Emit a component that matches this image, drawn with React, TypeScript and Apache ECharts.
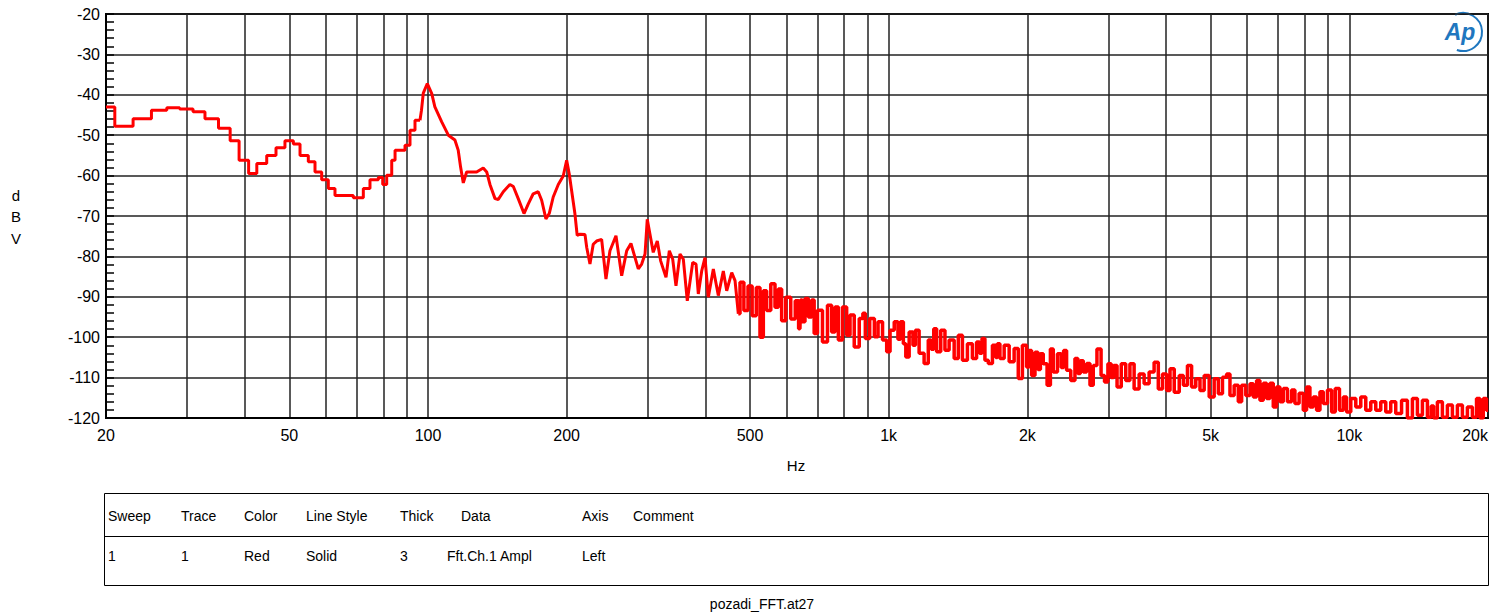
import React, { useEffect, useRef } from "react";
import * as echarts from "echarts";

// ---- data (frequency in Hz, level in dBV) ----
const lowFreqHz = [20.0, 20.9, 22.9, 25.1, 27.1, 28.9, 30.9, 32.8, 35.1, 37.2, 38.9, 40.8, 42.5, 44.66, 46.78, 48.92, 51.02, 52.75, 54.98, 56.85, 58.78, 60.76, 62.82, 68.84, 72.38, 74.83, 78.03, 79.75, 81.35, 83.42, 84.82, 89.15, 91.4, 93.71, 96.08];
const lowDbv = [-43.0, -47.8, -45.9, -43.8, -43.2, -43.5, -44.2, -45.9, -48.3, -51.4, -56.2, -59.5, -57.0, -55.0, -53.1, -51.4, -52.2, -55.0, -56.6, -59.1, -61.0, -63.2, -64.9, -65.5, -63.2, -61.0, -60.5, -62.2, -59.9, -56.2, -53.7, -52.5, -48.8, -46.3, -46.3];

const midFreqHz = [
  96.08, 96.8, 97.68, 99.66, 101.9, 103.5, 107.1, 110.7, 114.4, 116.3, 117.7, 119.3, 121.3, 127.5, 131.8, 134.1, 136.3, 139.8, 142.1, 145.7,
  150.6, 153.2, 157.0, 161.6, 165.1, 169.2, 173.5, 176.5, 180.3, 183.3, 187.0, 191.8, 196.6, 200.0, 202.6, 205.0, 208.4, 210.8, 213.8, 219.2,
  221.1, 224.7, 228.4, 232.3, 238.2, 243.4, 248.3, 255.9, 263.3, 270.0, 275.8, 286.1, 291.0, 295.9, 299.2, 303.3, 308.3, 314.6, 319.9, 328.6,
  334.1, 339.8, 345.4, 352.4, 358.3, 365.5, 375.5, 381.8, 386.2, 392.8, 399.3, 406.0, 416.3, 426.8, 437.6, 445.1, 456.4, 464.0, 471.7
];
const midDbv = [
  -46.3, -43.8, -39.6, -37.2, -39.7, -43.0, -46.7, -50.0, -51.2, -53.7, -57.9, -61.8, -59.1, -59.1, -58.1, -59.1, -62.2, -65.7, -65.9, -64.0,
  -62.2, -62.7, -65.7, -69.4, -67.0, -64.5, -64.0, -66.1, -70.7, -69.4, -65.3, -62.2, -60.1, -56.2, -59.6, -63.7, -69.4, -74.8, -74.5, -74.6,
  -77.8, -81.9, -77.0, -76.2, -75.8, -85.6, -78.6, -74.9, -84.8, -78.6, -76.8, -83.1, -81.9, -79.4, -70.8, -74.5, -79.0, -76.2, -81.1, -85.2,
  -78.6, -80.7, -87.3, -79.4, -80.7, -91.0, -81.5, -81.9, -89.3, -83.6, -80.3, -90.1, -83.1, -89.7, -83.6, -88.5, -84.0, -86.0, -94.2
];

const highFreqHz = [
  471.7, 479.8,
  490.2, 500.0, 510.9, 521.2, 530.1, 538.9, 547.9, 561.8, 571.4, 580.9, 590.6, 605.4, 620.7, 633.4, 641.8, 646.0, 652.6, 663.8, 674.9, 686.2,
  692.0, 709.4, 727.4, 745.8, 758.3, 771.3, 784.1, 803.9, 817.4, 831.5, 852.5, 874.1, 884.0, 895.9, 923.4, 938.9, 957.9, 982.1, 998.4, 1015.7,
  1041, 1054, 1067.6, 1085, 1094, 1122, 1136, 1150, 1179, 1209, 1229, 1245, 1261, 1281, 1314, 1336, 1370, 1405, 1428, 1464,
  1501, 1539, 1565, 1585, 1604, 1632, 1659, 1701, 1715, 1729, 1759, 1804, 1849, 1896, 1927, 1976, 2009, 2026, 2060, 2096,
  2122, 2148, 2184, 2231, 2258, 2296, 2354, 2383, 2413, 2454, 2516, 2559, 2590, 2624, 2668, 2713, 2758, 2804, 2861, 2922,
  2962, 3022, 3060, 3098, 3166, 3230, 3312, 3368, 3454, 3541, 3631, 3722, 3817, 3881, 3980, 4046, 4116, 4220, 4327, 4398,
  4508, 4584, 4700, 4781, 4902, 5026, 5153, 5239, 5371, 5460, 5554, 5694, 5789, 5886, 6035, 6138, 6239, 6343, 6450, 6560,
  6668, 6782, 6894, 7009, 7130, 7248, 7430, 7554, 7684, 7877, 8010, 8142, 8282, 8420, 8562, 8708, 8853, 9078, 9228, 9414,
  9624, 9784, 9947, 10200, 10458, 10722, 10993, 11271, 11556, 11848, 12147, 12454, 12769, 13202, 13537, 13879, 14231, 14591, 14961, 15150,
  15337, 15725, 16123, 16532, 16950, 17378, 17819, 18268, 18732, 19042, 19370, 19694, 20000
];
const highDbv = [
  -94.2, -86.4,
  -93.4, -87.3, -94.7, -87.7, -100.0, -88.5, -93.4, -86.8, -92.6, -88.1, -95.9, -90.1, -95.5, -91.0, -97.9, -90.8, -96.2, -90.4, -95.0, -90.8,
  -99.1, -93.3, -101.2, -92.1, -98.7, -92.5, -100.7, -92.5, -99.5, -94.5, -102.4, -95.4, -94.1, -100.3, -95.4, -99.9, -96.2, -100.7, -103.6, -98.3,
  -96.2, -100.5, -96.2, -101.6, -104.9, -98.7, -102.0, -98.3, -104.0, -106.5, -100.7, -103.0, -97.9, -103.6, -98.3, -103.2, -100.7, -105.3, -99.5, -105.7,
  -101.6, -105.3, -101.2, -104.0, -100.3, -105.7, -106.5, -102.0, -105.0, -101.6, -105.3, -102.0, -106.1, -102.8, -110.2, -102.0, -107.4, -103.3, -109.5, -103.7,
  -108.0, -104.1, -106.6, -111.9, -102.9, -108.6, -104.1, -107.5, -103.3, -108.2, -110.7, -105.3, -109.0, -105.8, -108.6, -106.5, -111.9, -107.0, -102.9, -109.5,
  -111.1, -106.6, -110.0, -107.0, -112.3, -106.6, -110.7, -106.6, -112.8, -109.1, -111.5, -108.6, -106.2, -112.8, -109.1, -113.2, -107.8, -113.6, -109.5, -111.9,
  -107.0, -112.3, -110.3, -113.2, -109.5, -114.8, -110.3, -114.0, -109.9, -109.1, -114.4, -111.9, -116.0, -111.9, -114.4, -111.5, -114.8, -110.7, -115.6, -111.4,
  -115.2, -111.4, -117.3, -112.3, -116.0, -112.7, -116.0, -113.1, -116.4, -113.9, -118.1, -112.3, -117.3, -114.8, -118.1, -113.5, -116.4, -113.1, -118.5, -112.7,
  -118.1, -114.8, -118.5, -115.2, -117.3, -114.8, -118.1, -116.0, -118.1, -116.0, -118.5, -116.0, -118.9, -115.6, -120.0, -115.2, -119.3, -115.6, -119.8, -117.0,
  -120.0, -116.0, -119.8, -116.8, -119.8, -116.8, -119.8, -117.3, -119.8, -115.2, -120.0, -115.2, -118.1
];

const gridFreqHz = [20, 30, 40, 50, 60, 70, 80, 90, 100, 200, 300, 400, 500, 600, 700, 800, 900, 1000, 2000, 3000, 4000, 5000, 6000, 7000, 8000, 9000, 10000, 20000];
const labelFreqHz = [20, 50, 100, 200, 500, 1000, 2000, 5000, 10000, 20000];
const freqMin = 20;
const freqMax = 20000;
const dbvMin = -120;
const dbvMax = -20;
const dbvStep = 10;
const dbvMinorStep = 2;

const tableHeader = ["Sweep", "Trace", "Color", "Line Style", "Thick", "Data", "Axis", "Comment"];
const tableRow = ["1", "1", "Red", "Solid", "3", "Fft.Ch.1 Ampl", "Left", ""];
const yAxisName = ["d", "B", "V"];
const xAxisName = "Hz";
const footer = "pozadi_FFT.at27";

// ---- layout ----
const W = 1504;
const H = 614;
const headerX = [108, 181, 244, 306, 400, 461, 582, 633];
const rowX = [108, 181, 244, 306, 400, 447, 582, 633];
const FONT = "Liberation Sans";

const fmtFreq = (v: number) => {
  const f = Math.round(Math.pow(10, v));
  return f >= 1000 ? f / 1000 + "k" : String(f);
};

const toPts = (fs: number[], vs: number[]) => fs.map((f, i) => [Math.log10(f), vs[i]]);

export default function App() {
  const ref = useRef<HTMLDivElement>(null);
  useEffect(() => {
    if (!ref.current) return;
    const chart = echarts.init(ref.current, undefined, { renderer: "svg" });
    const txt = (text: string, x: number, y: number, size: number, align = "left") => ({
      type: "text",
      x,
      y,
      silent: true,
      style: { text, fontSize: size, fontFamily: FONT, fill: "#000", align, verticalAlign: "middle" },
    });
    const graphics: any[] = [];
    yAxisName.forEach((c, i) => graphics.push(txt(c, 16, 195 + i * 21.5, 15, "center")));
    graphics.push(txt(xAxisName, 796, 465, 15, "center"));
    graphics.push({
      type: "rect",
      silent: true,
      shape: { x: 104.5, y: 493.5, width: 1384, height: 92 },
      style: { fill: "none", stroke: "#000", lineWidth: 1 },
    });
    graphics.push({
      type: "line",
      silent: true,
      shape: { x1: 104.5, y1: 536.5, x2: 1488.5, y2: 536.5 },
      style: { stroke: "#000", lineWidth: 1 },
    });
    tableHeader.forEach((t, i) => graphics.push(txt(t, headerX[i], 516, 14)));
    tableRow.forEach((t, i) => t && graphics.push(txt(t, rowX[i], 556, 14)));
    graphics.push(txt(footer, 762, 604, 14, "center"));
    // AP logo
    graphics.push({
      type: "text",
      x: 1460,
      y: 32,
      silent: true,
      style: {
        text: "Ap",
        fontSize: 23,
        fontFamily: FONT,
        fontStyle: "italic",
        fontWeight: "bold",
        fill: "#1f77bf",
        align: "center",
        verticalAlign: "middle",
      },
    });
    graphics.push({
      type: "arc",
      silent: true,
      shape: { cx: 1463, cy: 32, r: 19, startAngle: -2.0, endAngle: 1.9 },
      style: { stroke: "#1f77bf", lineWidth: 2, fill: "none" },
    });

    const lineStyle = { color: "#ff0000", width: 3 };
    chart.setOption({
      animation: false,
      textStyle: { fontFamily: FONT },
      grid: {
        left: 106,
        right: 16,
        top: 14,
        bottom: 196,
        show: true,
        borderColor: "#000",
        borderWidth: 2,
        backgroundColor: "transparent",
      },
      xAxis: {
        type: "value",
        min: Math.log10(freqMin),
        max: Math.log10(freqMax),
        axisLine: { show: true, lineStyle: { color: "#000", width: 2 } },
        axisTick: { show: true, length: 0, customValues: gridFreqHz.map((f) => Math.log10(f)) },
        splitLine: { show: true, lineStyle: { color: "#222", width: 1.5 } },
        axisLabel: {
          customValues: labelFreqHz.map((f) => Math.log10(f)),
          formatter: fmtFreq,
          fontSize: 16,
          color: "#000",
          fontFamily: FONT,
          margin: 9,
          showMinLabel: true,
          showMaxLabel: true,
          alignMaxLabel: "right",
        },
      },
      yAxis: [
        {
          type: "value",
          min: dbvMin,
          max: dbvMax,
          interval: dbvStep,
          axisLine: { show: true, lineStyle: { color: "#000", width: 2 } },
          axisTick: { show: false },
          splitLine: { show: true, lineStyle: { color: "#222", width: 1.5 } },
          axisLabel: { fontSize: 16, color: "#000", fontFamily: FONT, margin: 6 },
        },
        {
          type: "value",
          position: "left",
          min: dbvMin,
          max: dbvMax,
          interval: dbvMinorStep,
          axisLine: { show: false },
          axisTick: { show: true, inside: true, length: 8, lineStyle: { color: "#000", width: 1.5 } },
          splitLine: { show: false },
          axisLabel: { show: false },
        },
      ],
      series: [
        { type: "line", data: toPts(lowFreqHz, lowDbv), step: "end", symbol: "none", silent: true, lineStyle, z: 3 },
        { type: "line", data: toPts(midFreqHz, midDbv), symbol: "none", silent: true, lineStyle, z: 3 },
        { type: "line", data: toPts(highFreqHz, highDbv), step: "middle", symbol: "none", silent: true, lineStyle: { color: "#ff0000", width: 3.5 }, z: 3 },
      ],
      graphic: graphics,
    });
    return () => chart.dispose();
  }, []);
  return <div ref={ref} style={{ position: "absolute", left: 0, top: 0, width: W, height: H }} />;
}
